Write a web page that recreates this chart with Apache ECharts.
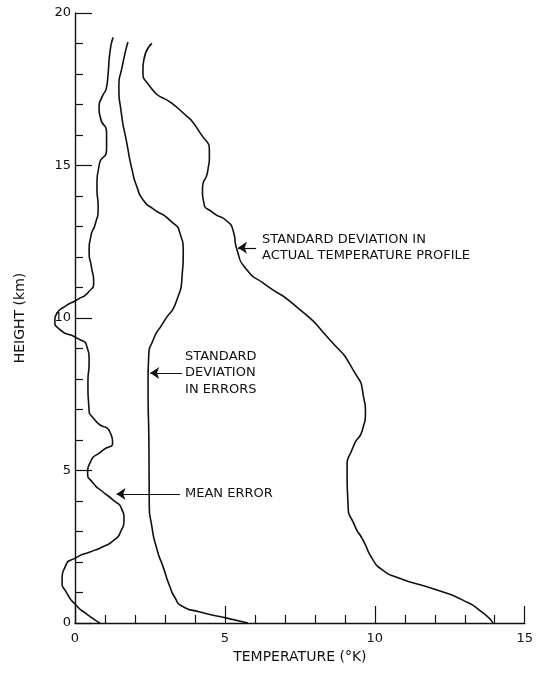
<!DOCTYPE html>
<html>
<head>
<meta charset="utf-8">
<script src="https://cdn.jsdelivr.net/npm/echarts@6/dist/echarts.min.js"></script>
<style>
  html, body { margin: 0; padding: 0; background: #fff; }
  #chart { width: 536px; height: 674px; }
</style>
</head>
<body>
<div id="chart"></div>
<script>
// Temperature (°K) vs height (km) profiles: [temperature, height]
var meanError = [
  [0.83, 0], [0.38, 0.3], [0.03, 0.59], [-0.27, 0.98], [-0.43, 1.41], [-0.33, 1.84],
  [0.07, 2.16], [0.5, 2.33], [0.93, 2.5], [1.3, 2.72], [1.52, 3.0], [1.63, 3.4],
  [1.55, 3.75], [1.27, 4.03], [0.9, 4.32], [0.6, 4.59], [0.42, 4.95], [0.5, 5.25],
  [0.93, 5.67], [1.25, 5.92], [1.18, 6.22], [0.67, 6.65], [0.46, 7.1], [0.43, 7.85],
  [0.47, 8.6], [0.4, 9.05], [0.07, 9.34], [-0.5, 9.62], [-0.67, 9.93], [-0.6, 10.15],
  [-0.33, 10.38], [0.07, 10.6], [0.45, 10.85], [0.62, 11.2], [0.55, 11.65], [0.47, 12.2],
  [0.52, 12.65], [0.68, 13.1], [0.77, 13.6], [0.73, 14.3], [0.8, 15.0], [1.05, 15.55],
  [1.05, 16.07], [0.85, 16.55], [0.8, 16.9], [0.9, 17.25], [1.05, 17.57], [1.1, 18.0],
  [1.16, 18.7], [1.27, 19.2]
];
var stdErrors = [
  [5.75, 0], [5.05, 0.16], [4.16, 0.36], [3.55, 0.56], [3.33, 0.82], [3.16, 1.18],
  [2.93, 1.84], [2.73, 2.4], [2.55, 3.2], [2.47, 3.9], [2.46, 5.7], [2.43, 7.87],
  [2.45, 8.72], [2.6, 9.28], [2.93, 9.84], [3.39, 10.6], [3.56, 11.35], [3.6, 12.2],
  [3.5, 12.75], [3.16, 13.2], [2.6, 13.58], [2.28, 13.85], [2.06, 14.3], [1.9, 14.85],
  [1.73, 15.7], [1.53, 16.8], [1.46, 17.57], [1.56, 18.2], [1.76, 19.05]
];
var stdActual = [
  [13.9, 0], [13.57, 0.33], [12.9, 0.75], [12.04, 1.08], [10.7, 1.5], [10.2, 1.76],
  [9.91, 2.07], [9.58, 2.72], [9.3, 3.2], [9.08, 3.9], [9.05, 5.0], [9.25, 5.77],
  [9.58, 6.4], [9.66, 6.9], [9.6, 7.4], [9.25, 8.3], [8.48, 9.28], [7.38, 10.36],
  [6.25, 11.15], [5.72, 11.57], [5.39, 12.23], [5.25, 12.89], [5.05, 13.18], [4.6, 13.45],
  [4.28, 13.8], [4.24, 14.2], [4.42, 14.85], [4.47, 15.34], [4.16, 16.07], [3.49, 16.82],
  [2.45, 17.65], [2.26, 18.13], [2.29, 18.46], [2.56, 19.0]
];

// Annotation arrows: [fromT, toT, height] and their labels
var annotations = [
  { lines: ['STANDARD DEVIATION IN', 'ACTUAL TEMPERATURE PROFILE'], arrow: [6.02, 5.42, 12.3], textT: 6.22 },
  { lines: ['STANDARD', 'DEVIATION', 'IN ERRORS'], arrow: [3.56, 2.5, 8.2], textT: 3.66 },
  { lines: ['MEAN ERROR'], arrow: [3.49, 1.38, 4.23], textT: 3.66 }
];

var xTicks = [0, 15, 5];   // min, max, interval
var yTicks = [0, 20, 5];
var xPlotMin = -1;         // the mean error dips below zero, left of the axis

var FONT = 'DejaVu Sans';
var INK = '#111';

var W = 536, LEFT = 75, RIGHT = 10, TOP = 13, BOTTOM = 51;
// Plot grid shares the axis grid's scale but starts further left
var pxPerUnit = (W - LEFT - RIGHT) / (xTicks[1] - xTicks[0]);
var plotLeft = LEFT - (xTicks[0] - xPlotMin) * pxPerUnit;

var chart = echarts.init(document.getElementById('chart'), null, { renderer: 'canvas' });

function axisBase(t) {
  return {
    type: 'value',
    gridIndex: 0,
    min: t[0], max: t[1], interval: t[2],
    axisLine: { show: true, lineStyle: { color: INK, width: 1.4 } },
    axisTick: { show: true, inside: true, length: 17, lineStyle: { color: INK, width: 1.2 } },
    minorTick: { show: true, splitNumber: 5, length: 8, lineStyle: { color: INK, width: 1.2 } },
    splitLine: { show: false },
    minorSplitLine: { show: false },
    nameTextStyle: { fontFamily: FONT, fontSize: 14, color: INK },
    axisLabel: { fontFamily: FONT, fontSize: 13, color: INK }
  };
}

function hiddenAxis(min, max) {
  return {
    type: 'value', gridIndex: 1, min: min, max: max, show: false,
    splitLine: { show: false }
  };
}

function curve(data, ann) {
  return {
    type: 'line',
    xAxisIndex: 1,
    yAxisIndex: 1,
    data: data,
    smooth: 0.7,
    clip: false,
    showSymbol: false,
    symbol: 'none',
    silent: true,
    lineStyle: { color: INK, width: 1.6 },
    markLine: {
      silent: true,
      symbol: ['none', 'arrow'],
      symbolSize: 9,
      lineStyle: { color: INK, width: 1.2, type: 'solid' },
      label: { show: false },
      data: [[
        { coord: [ann.arrow[0], ann.arrow[2]] },
        { coord: [ann.arrow[1], ann.arrow[2]] }
      ]]
    }
  };
}

var xAxis = axisBase(xTicks);
xAxis.name = 'TEMPERATURE (°K)';
xAxis.nameLocation = 'middle';
xAxis.nameGap = 27;
xAxis.axisLabel.margin = 9;

var yAxis = axisBase(yTicks);
yAxis.name = 'HEIGHT (km)';
yAxis.nameLocation = 'middle';
yAxis.nameGap = 48;
yAxis.axisLabel.margin = 4;

chart.setOption({
  animation: false,
  backgroundColor: '#fff',
  grid: [
    { left: LEFT, right: RIGHT, top: TOP, bottom: BOTTOM, containLabel: false },
    { left: plotLeft, right: RIGHT, top: TOP, bottom: BOTTOM, containLabel: false }
  ],
  xAxis: [xAxis, hiddenAxis(xPlotMin, xTicks[1])],
  yAxis: [yAxis, hiddenAxis(yTicks[0], yTicks[1])],
  series: [
    curve(stdActual, annotations[0]),
    curve(stdErrors, annotations[1]),
    curve(meanError, annotations[2])
  ]
});

// Place annotation text next to the arrow tails, in data coordinates
var lineH = 16.5;
var graphics = annotations.map(function (a) {
  var p = chart.convertToPixel({ gridIndex: 1 }, [a.textT, a.arrow[2]]);
  return {
    type: 'text',
    silent: true,
    style: {
      text: a.lines.join('\n'),
      x: p[0],
      y: p[1],
      font: '13px "' + FONT + '"',
      fill: INK,
      lineHeight: lineH,
      textAlign: 'left',
      textVerticalAlign: 'middle',
      verticalAlign: 'middle'
    }
  };
});
chart.setOption({ graphic: graphics });
</script>
</body>
</html>
